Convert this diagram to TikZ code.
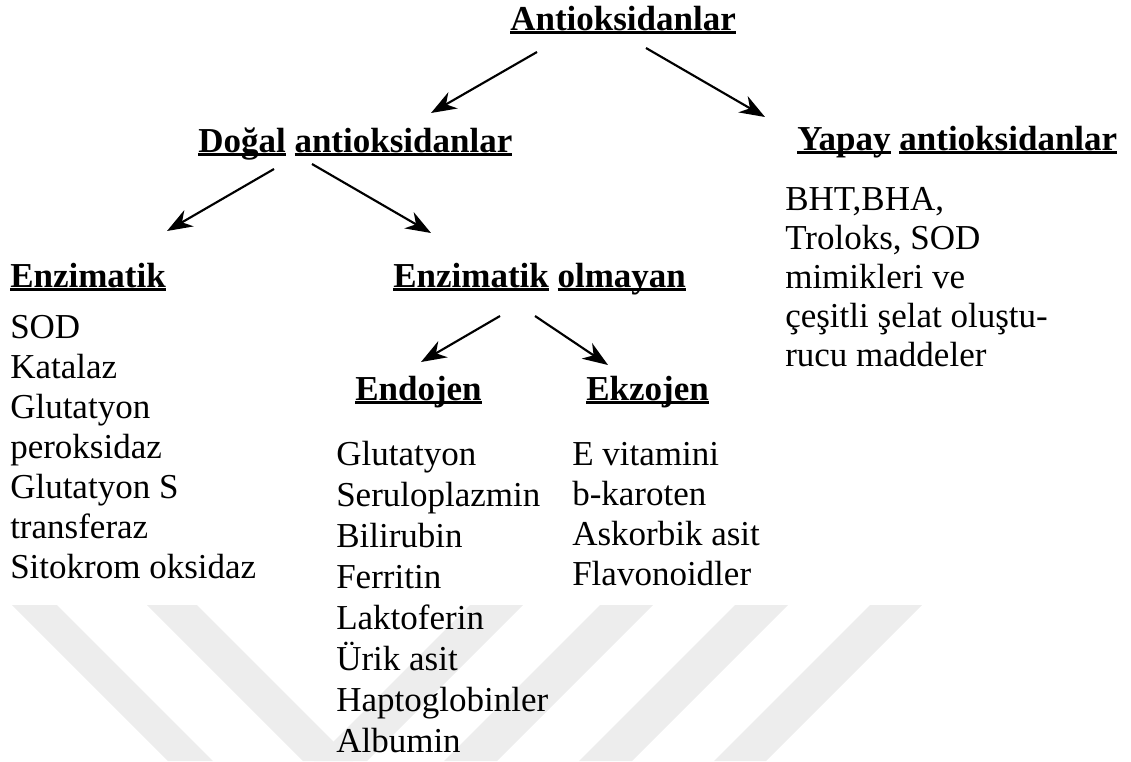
\documentclass[tikz,border=0pt]{standalone}
\usepackage{fontspec}
\setmainfont{Liberation Serif}
\usetikzlibrary{positioning,arrows.meta,calc}
\tikzstyle{arrow} = [line width=1.6pt,-{Stealth[length=19pt,width=14pt,inset=6pt]}]
\newcommand{\ulword}[1]{\setbox0\hbox{#1}\rlap{\rule[-3pt]{\wd0}{1.9pt}}\box0\relax}

\begin{document}
\begin{tikzpicture}[x=0.75pt,y=-0.75pt]
	\tikzstyle{head} = [inner sep=0pt, anchor=base west, font=\fontsize{26.25}{30}\selectfont\bfseries];
	\tikzstyle{list} = [inner sep=0pt, anchor=base west, align=left, font=\fontsize{26.25}{30}\selectfont];
	\tikzstyle{stripe} = [fill=black!7];
	\useasboundingbox (0,0) rectangle (1131,761);
	% watermark
	\fill[stripe] (12,605) -- (57,605) -- (213,761) -- (168,761) -- cycle;
	\fill[stripe] (147,605) -- (197,605) -- (353,761) -- (303,761) -- cycle;
	\fill[stripe] (470,605) -- (523,605) -- (367,761) -- (314,761) -- cycle;
	\fill[stripe] (600,605) -- (653,605) -- (497,761) -- (444,761) -- cycle;
	\fill[stripe] (735,605) -- (788,605) -- (632,761) -- (579,761) -- cycle;
	\fill[stripe] (870,605) -- (922,605) -- (766,761) -- (714,761) -- cycle;
	% headings
	\node (anto) [head] at (510,30) {\ulword{Antioksidanlar}};
	\node (dogal) [head] at (198,152) {\ulword{Doğal} \ulword{antioksidanlar}};
	\node (yapay) [head] at (797,150) {\ulword{Yapay} \ulword{antioksidanlar}};
	\node (enz) [head] at (10,287) {\ulword{Enzimatik}};
	\node (enzol) [head] at (393,287) {\ulword{Enzimatik} \ulword{olmayan}};
	\node (endo) [head] at (355,400) {\ulword{Endojen}};
	\node (ekzo) [head] at (586,400) {\ulword{Ekzojen}};
	% lists (base = last line)
	\node (enzlist) [list] at (10,578) {SOD\\Katalaz\\Glutatyon\\peroksidaz\\Glutatyon S\\transferaz\\Sitokrom oksidaz};
	\node (yaplist) [list, font=\fontsize{26.25}{29.25}\selectfont] at (785,366) {BHT,BHA,\\Troloks, SOD\\mimikleri ve\\çeşitli şelat oluştu-\\rucu maddeler};
	\node (endolist) [list, font=\fontsize{26.25}{30.75}\selectfont] at (336,752) {Glutatyon\\Seruloplazmin\\Bilirubin\\Ferritin\\Laktoferin\\Ürik asit\\Haptoglobinler\\Albumin};
	\node (ekzolist) [list] at (572,585) {E vitamini\\b-karoten\\Askorbik asit\\Flavonoidler};
	% arrows
	\draw [arrow] ($(anto.base west)+(27,22)$) -- ($(dogal.base west)+(233,-39)$);
	\draw [arrow] ($(anto.base west)+(136,18)$) -- ($(yapay.base west)+(-32,-33)$);
	\draw [arrow] ($(dogal.base west)+(76,17)$) -- ($(enz.base west)+(157,-56)$);
	\draw [arrow] ($(dogal.base west)+(114,12)$) -- ($(enzol.base west)+(38,-54)$);
	\draw [arrow] ($(enzol.base west)+(107,29)$) -- ($(endo.base west)+(66,-38)$);
	\draw [arrow] ($(enzol.base west)+(142,29)$) -- ($(ekzo.base west)+(22,-35)$);
\end{tikzpicture}
\end{document}
